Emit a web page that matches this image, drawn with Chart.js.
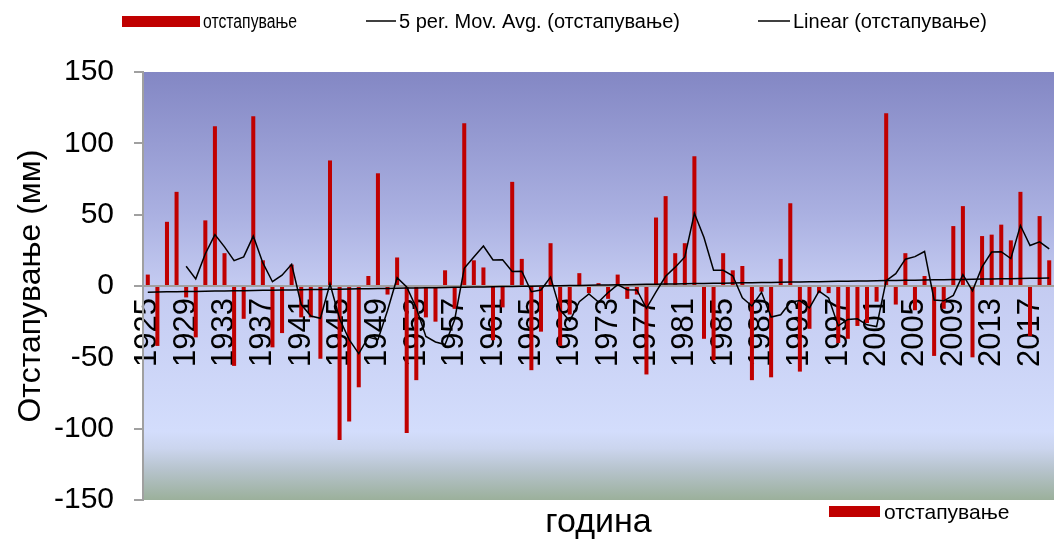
<!DOCTYPE html>
<html>
<head>
<meta charset="utf-8">
<script src="https://cdn.jsdelivr.net/npm/chart.js@4/dist/chart.umd.min.js"></script>
<style>
  html, body { margin: 0; padding: 0; background: #fff; overflow: hidden; }
  #wrap { width: 1054px; height: 540px; position: relative; }
</style>
</head>
<body>
<div id="wrap"><canvas id="devChart"></canvas></div>
<script>
// години и отстапување (мм)
const years = [];
for (let y = 1925; y <= 2019; y++) years.push(String(y));

const deviation = [
  8, -42, 45, 66, -8, -36, 46, 112, 23, -56,
  -23, 119, 18, -43, -33, 15, -22, -22, -51, 88,
  -108, -95, -71, 7, 79, -6, 20, -103, -66, -22,
  -25, 11, -16, 114, 18, 13, -38, -15, 73, 19,
  -59, -32, 30, -42, -20, 9, -5, 2, -9, 8,
  -9, -6, -62, 48, 63, 23, 30, 91, -37, -52,
  23, 11, 14, -66, -4, -64, 19, 58, -60, -30,
  -5, -5, -40, -37, -28, -26, -11, 121, -13, 23,
  -17, 7, -49, -16, 42, 56, -50, 35, 36, 43,
  32, 66, -35, 49, 18
];

const yTicks = [-150, -100, -50, 0, 50, 100, 150];

// 5-годишен подвижен просек
const movAvg = deviation.map((v, i) => {
  if (i < 4) return null;
  let s = 0;
  for (let k = i - 4; k <= i; k++) s += deviation[k];
  return s / 5;
});

// линеарен тренд (најмали квадрати)
const n = deviation.length;
let sx = 0, sy = 0, sxy = 0, sxx = 0;
deviation.forEach((v, i) => { sx += i; sy += v; sxy += i * v; sxx += i * i; });
const slope = (n * sxy - sx * sy) / (n * sxx - sx * sx);
const icpt = (sy - slope * sx) / n;
const trend = deviation.map((v, i) => icpt + slope * i);

const FONT = "'Liberation Sans', Arial, sans-serif";

const plotBackground = {
  id: 'plotBackground',
  beforeDraw(chart) {
    const {ctx, chartArea: a} = chart;
    const g = ctx.createLinearGradient(0, a.top, 0, a.bottom);
    g.addColorStop(0, '#8387c4');
    g.addColorStop(0.33, '#aab0e1');
    g.addColorStop(0.5, '#c4cbf1');
    g.addColorStop(0.84, '#d3ddfc');
    g.addColorStop(0.88, '#cbd5ee');
    g.addColorStop(0.93, '#b6c3cc');
    g.addColorStop(1, '#9bb09b');
    ctx.save();
    ctx.fillStyle = g;
    ctx.fillRect(a.left, a.top, a.right - a.left, a.bottom - a.top);
    ctx.restore();
  }
};

const extraText = {
  id: 'extraText',
  afterDraw(chart) {
    const {ctx, chartArea: a} = chart;
    ctx.save();
    ctx.textBaseline = 'middle';
    ctx.fillStyle = '#000';

    // горна легенда
    ctx.font = '20px ' + FONT;
    ctx.fillStyle = '#c00000';
    ctx.fillRect(122, 16, 78, 11);
    ctx.fillStyle = '#000';
    ctx.fillText('отстапување', 203, 22, 94);
    ctx.strokeStyle = '#000';
    ctx.lineWidth = 1.5;
    ctx.beginPath(); ctx.moveTo(366, 21); ctx.lineTo(396, 21); ctx.stroke();
    ctx.fillText('5 per. Mov. Avg. (отстапување)', 399, 22);
    ctx.beginPath(); ctx.moveTo(758, 21); ctx.lineTo(790, 21); ctx.stroke();
    ctx.fillText('Linear (отстапување)', 793, 22);

    // наслов на x-оската
    ctx.font = '34px ' + FONT;
    ctx.textAlign = 'center';
    ctx.fillText('година', (a.left + a.right) / 2, 523);

    // долна легенда
    ctx.textAlign = 'left';
    ctx.fillStyle = '#c00000';
    ctx.fillRect(829, 506, 51, 11);
    ctx.fillStyle = '#000';
    ctx.font = '21px ' + FONT;
    ctx.fillText('отстапување', 884, 513);
    ctx.restore();
  }
};

new Chart(document.getElementById('devChart'), {
  type: 'bar',
  data: {
    labels: years,
    datasets: [
      {
        label: 'отстапување',
        data: deviation,
        backgroundColor: '#c00000',
        barPercentage: 0.42,
        categoryPercentage: 1,
        order: 3
      },
      {
        type: 'line',
        label: '5 per. Mov. Avg. (отстапување)',
        data: movAvg,
        borderColor: '#000',
        borderWidth: 1.5,
        pointRadius: 0,
        tension: 0,
        order: 1
      },
      {
        type: 'line',
        label: 'Linear (отстапување)',
        data: trend,
        borderColor: '#000',
        borderWidth: 1.5,
        pointRadius: 0,
        tension: 0,
        order: 2
      }
    ]
  },
  options: {
    responsive: true,
    maintainAspectRatio: false,
    animation: false,
    layout: { padding: { top: 72, bottom: 40, left: 0, right: 0 } },
    plugins: {
      legend: { display: false },
      tooltip: { enabled: false }
    },
    scales: {
      x: {
        position: { y: 0 },
        z: 1,
        afterFit(scale) { scale.paddingLeft = 0; scale.paddingRight = 0; },
        grid: { drawOnChartArea: false, drawTicks: false },
        border: { display: true, color: '#a0a0a0', width: 2 },
        ticks: {
          autoSkip: false,
          minRotation: 90,
          maxRotation: 90,
          padding: 12,
          color: '#000',
          font: { family: FONT, size: 31 },
          callback: (v, i) => (i % 4 === 0 ? years[i] : '')
        }
      },
      y: {
        min: -150,
        max: 150,
        afterFit(scale) { scale.width = 143; },
        afterBuildTicks(scale) { scale.ticks = yTicks.map(v => ({ value: v })); },
        grid: { drawOnChartArea: false, drawTicks: true, tickLength: 9, color: '#a0a0a0', lineWidth: 2 },
        border: { color: '#a0a0a0', width: 2 },
        ticks: {
          padding: 20,
          color: '#000',
          font: { family: FONT, size: 30 }
        },
        title: {
          display: true,
          text: 'Отстапување (мм)',
          color: '#000',
          font: { family: FONT, size: 32 },
          padding: { top: 12, bottom: 0 }
        }
      }
    }
  },
  plugins: [plotBackground, extraText]
});
</script>
</body>
</html>
